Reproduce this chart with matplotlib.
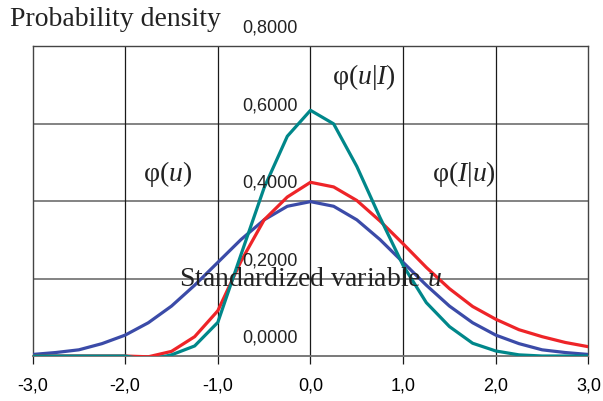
import numpy as np
import matplotlib
matplotlib.use('Agg')
import matplotlib.pyplot as plt
import matplotlib.transforms as mtransforms

# ============================================================
# Datos (paso 0.25 en u)
# ============================================================
u = [-3.0, -2.75, -2.5, -2.25, -2.0, -1.75, -1.5, -1.25, -1.0, -0.75, -0.5, -0.25,
     0.0, 0.25, 0.5, 0.75, 1.0, 1.25, 1.5, 1.75, 2.0, 2.25, 2.5, 2.75, 3.0]

# phi(u): densidad a priori
phi_u = [0.004, 0.009, 0.016, 0.032, 0.054, 0.086, 0.129, 0.183, 0.242, 0.301, 0.352, 0.387,
         0.399, 0.387, 0.352, 0.301, 0.242, 0.183, 0.129, 0.086, 0.054, 0.032, 0.016, 0.009, 0.004]

# phi(I|u): verosimilitud
phi_I_u = [0.0, 0.0, 0.0, 0.0, 0.0, -0.002, 0.012, 0.050, 0.117, 0.245, 0.352, 0.411,
           0.449, 0.437, 0.402, 0.349, 0.290, 0.229, 0.174, 0.128, 0.095, 0.068, 0.050, 0.035, 0.024]

# phi(u|I): densidad a posteriori
phi_u_I = [0.0, 0.0, 0.0, 0.0, 0.0, -0.010, 0.003, 0.026, 0.087, 0.262, 0.435, 0.568,
           0.635, 0.600, 0.490, 0.358, 0.234, 0.138, 0.076, 0.033, 0.013, 0.003, 0.0, 0.0, 0.0]

x_ticks = [-3, -2, -1, 0, 1, 2, 3]
y_ticks = [0.0, 0.2, 0.4, 0.6, 0.8]

BLUE = '#3B4BA8'
RED = '#EE2428'
TEAL = '#00878A'

SERIF = 'Liberation Serif'
SANS = 'Liberation Sans'
plt.rcParams['mathtext.fontset'] = 'custom'
plt.rcParams['mathtext.rm'] = SERIF
plt.rcParams['mathtext.it'] = SERIF + ':italic'

# ============================================================
# Figura
# ============================================================
fig = plt.figure(figsize=(6.03, 4.02), dpi=100)
ax = fig.add_axes([0.0539, 0.1119, 0.922, 0.770])

ax.plot(u, phi_u, color=BLUE, lw=2.3, solid_joinstyle='round', zorder=3)
ax.plot(u, phi_I_u, color=RED, lw=2.3, solid_joinstyle='round', zorder=4)
ax.plot(u, phi_u_I, color=TEAL, lw=2.3, solid_joinstyle='round', zorder=5)

ax.set_xlim(-3, 3)
ax.set_ylim(0, 0.8)

# rejilla: horizontales grises, verticales oscuras
for v in y_ticks[1:-1]:
    ax.axhline(v, color='#7a7a7a', lw=1.3, zorder=1)
for v in x_ticks[1:-1]:
    ax.axvline(v, color='#1a1a1a', lw=0.9, zorder=1)

for side in ['top', 'right', 'left']:
    ax.spines[side].set_color('#444444')
    ax.spines[side].set_linewidth(1.0)
ax.spines['bottom'].set_color('#6e6e6e')
ax.spines['bottom'].set_linewidth(1.3)

ax.set_xticks(x_ticks)
ax.set_xticklabels([f'{v:.1f}'.replace('.', ',') for v in x_ticks],
                   fontsize=13, family=SANS)
ax.tick_params(axis='x', direction='out', length=6, width=0.9, color='#1a1a1a', pad=9)
ax.set_yticks([])

# etiquetas del eje y centradas en u=0, desplazadas hacia arriba
offset = mtransforms.offset_copy(ax.transData, fig=fig, x=-13, y=19, units='dots')
for v in y_ticks:
    ax.text(0, v, f'{v:.4f}'.replace('.', ','), transform=offset, ha='right',
            va='center', fontsize=13, family=SANS, color='#222222', clip_on=False,
            zorder=6)

fig.text(10 / 603, 1 - 20 / 402, 'Probability density', fontsize=20, family=SERIF,
         ha='left', va='center', color='#222222')

ax.text(0, 0.2, 'Standardized variable $u$', fontsize=20, family=SERIF,
        ha='center', va='center', color='#222222', zorder=6)
ax.text(-1.54, 0.472, 'φ($u$)', fontsize=20, family=SERIF,
        ha='center', va='center', color='#222222')
ax.text(1.66, 0.472, 'φ($I$|$u$)', fontsize=20, family=SERIF,
        ha='center', va='center', color='#222222')
ax.text(0.58, 0.724, 'φ($u$|$I$)', fontsize=20, family=SERIF,
        ha='center', va='center', color='#222222')

plt.savefig('out.png', dpi=100)
